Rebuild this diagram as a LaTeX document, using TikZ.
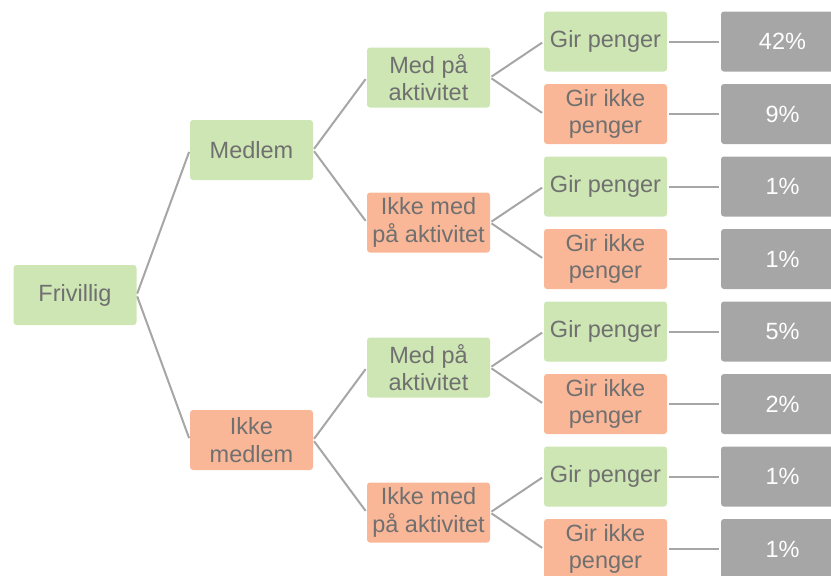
\documentclass[tikz,border=0pt]{standalone}
\usepackage{fontspec}
\setmainfont{Liberation Sans}
\definecolor{gfill}{HTML}{CDE6B3}
\definecolor{ofill}{HTML}{FAB797}
\definecolor{boxgray}{HTML}{A6A6A6}
\definecolor{txtgray}{HTML}{707070}
\definecolor{linegray}{HTML}{A6A6A6}
\tikzset{
  base/.style={minimum width=123pt, minimum height=60pt, inner sep=0pt, rounded corners=3pt,
    align=center, font=\fontsize{23.5}{27.5}\selectfont, text=txtgray},
  yes/.style={base, fill=gfill},
  no/.style={base, fill=ofill},
  pct/.style={base, fill=boxgray, text=white},
  conn/.style={draw=linegray, line width=2pt, shorten <=1.5pt, shorten >=2pt}
}
\begin{document}
\begin{tikzpicture}[x=1pt,y=-1pt]
\useasboundingbox (0,0) rectangle (831,576);
\node[yes] (f) at (75,295) {Frivillig};
\node[yes] (m) at (251.5,150) {Medlem};
\node[no] (im) at (251.5,440) {Ikke\\medlem};
\node[yes] (a1) at (428.5,77.5) {Med på\\aktivitet};
\node[no] (a2) at (428.5,222.5) {Ikke med\\på aktivitet};
\node[yes] (a3) at (428.5,367.5) {Med på\\aktivitet};
\node[no] (a4) at (428.5,512.5) {Ikke med\\på aktivitet};
\foreach \i/\y/\p in {1/41.5/42\%,2/114/9\%,3/186.5/1\%,4/259/1\%,5/331.5/5\%,6/404/2\%,7/476.5/1\%,8/549/1\%}{
  \pgfmathparse{isodd(\i)}
  \ifnum\pgfmathresult=1
    \node[yes] (g\i) at (605.5,\y) {Gir penger};
  \else
    \node[no] (g\i) at (605.5,\y) {Gir ikke\\penger};
  \fi
  \node[pct] (p\i) at (782.5,\y) {\p};
  \draw[conn] (g\i.east) -- (p\i.west);
}
\draw[conn] (f.east) -- (m.west);
\draw[conn] (f.east) -- (im.west);
\draw[conn] (m.east) -- (a1.west);
\draw[conn] (m.east) -- (a2.west);
\draw[conn] (im.east) -- (a3.west);
\draw[conn] (im.east) -- (a4.west);
\draw[conn] (a1.east) -- (g1.west);
\draw[conn] (a1.east) -- (g2.west);
\draw[conn] (a2.east) -- (g3.west);
\draw[conn] (a2.east) -- (g4.west);
\draw[conn] (a3.east) -- (g5.west);
\draw[conn] (a3.east) -- (g6.west);
\draw[conn] (a4.east) -- (g7.west);
\draw[conn] (a4.east) -- (g8.west);
\end{tikzpicture}
\end{document}
